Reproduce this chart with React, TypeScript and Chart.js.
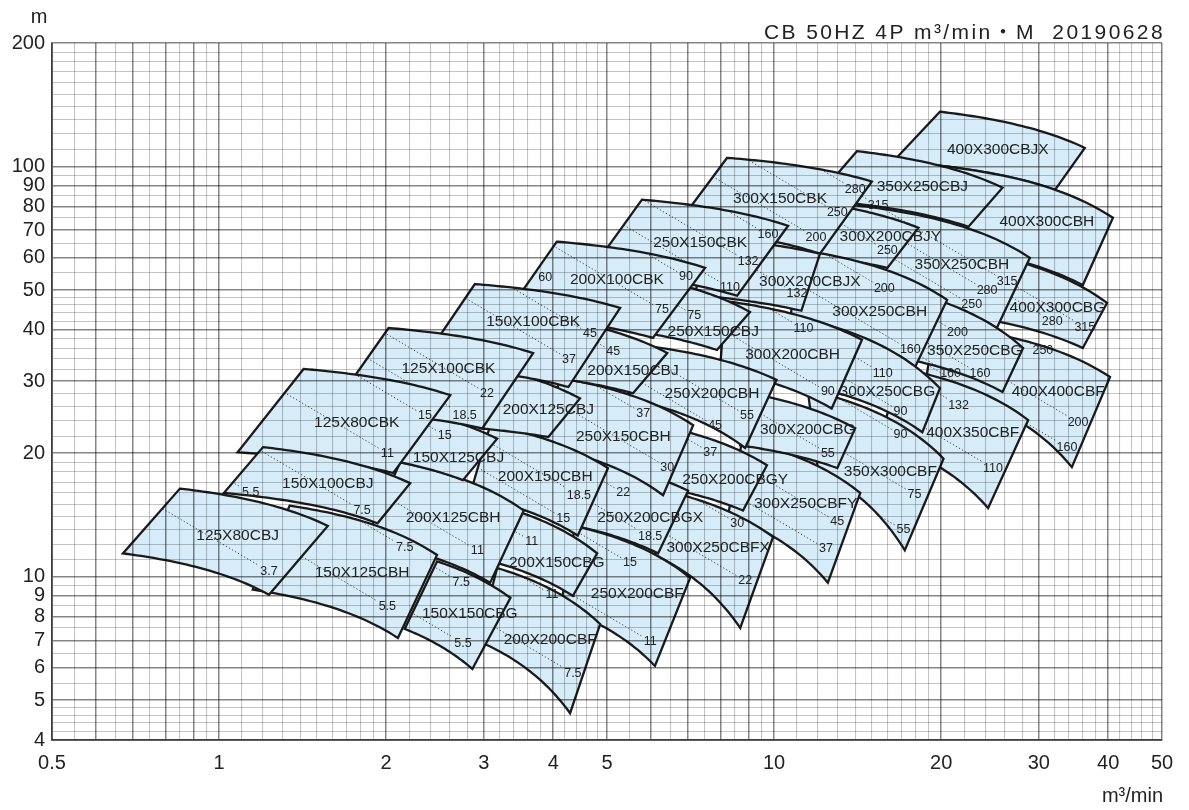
import React, { useEffect, useRef } from "react";
import { Chart, registerables } from "chart.js";

Chart.register(...registerables);

// ---------- DATA ----------
// Tiles in drawing order; corners are [top-left, top-right, bottom-right, bottom-left]
const TILE_NAMES = [
  "400X300CBJX", "400X300CBH", "400X300CBG", "400X400CBF", "350X250CBJ", "350X250CBH",
  "350X250CBG", "400X350CBF", "350X300CBF", "300X200CBJY", "300X250CBH", "300X250CBG",
  "300X250CBFY", "300X150CBK", "300X200CBJX", "300X200CBH", "300X200CBG", "300X250CBFX",
  "250X200CBGY", "250X150CBK", "250X150CBJ", "250X200CBH", "250X200CBGX", "250X200CBF",
  "250X150CBH", "200X100CBK", "200X150CBJ", "200X150CBH", "200X150CBG", "200X200CBF",
  "200X125CBJ", "150X100CBK", "200X125CBH", "150X150CBG", "150X125CBJ", "125X100CBK",
  "150X125CBH", "125X80CBK", "150X100CBJ", "125X80CBJ",
];

// flow m3/min at corners [TL, TR, BR, BL]
const TILE_Q = [
  [19.9, 36.3, 32.1, 16.4], [16.4, 40.8, 36.0, 19.1], [19.1, 39.8, 36.0, 17.9], [19.5, 40.3, 34.4, 18.7],
  [14.1, 25.8, 22.4, 11.85], [13.7, 28.9, 25.2, 12.6], [15.5, 28.1, 25.8, 14.6], [16.9, 28.7, 24.3, 15.5],
  [11.5, 20.2, 17.2, 12.0], [13.3, 18.2, 16.0, 11.9], [11.1, 20.5, 17.9, 10.7], [11.9, 19.9, 18.5, 11.4],
  [8.76, 14.3, 12.5, 8.26], [8.23, 15.0, 12.1, 6.63], [7.51, 12.1, 11.2, 7.21], [8.16, 14.4, 12.7, 7.99],
  [9.44, 14.0, 13.0, 8.69], [6.36, 9.96, 8.69, 6.10], [7.0, 9.71, 8.79, 6.31], [5.78, 10.6, 8.58, 4.66],
  [6.23, 9.05, 7.89, 5.86], [5.74, 10.1, 8.87, 5.46], [4.66, 7.0, 6.18, 4.38], [4.38, 7.06, 6.10, 4.12],
  [4.12, 7.15, 6.31, 3.79], [4.06, 7.51, 6.05, 3.28], [4.38, 6.42, 5.57, 4.03], [3.08, 5.02, 4.43, 2.83],
  [2.95, 4.80, 4.34, 2.77], [3.17, 4.86, 4.29, 2.93], [3.14, 4.47, 3.92, 2.95], [2.89, 5.28, 4.26, 2.30],
  [2.12, 3.54, 3.08, 1.83], [2.47, 3.35, 2.86, 2.16], [2.35, 3.17, 2.75, 2.12], [2.02, 3.68, 2.98, 1.59],
  [1.34, 2.47, 2.10, 1.15], [1.42, 2.61, 2.06, 1.08], [1.20, 2.21, 1.93, 1.02], [0.85, 1.57, 1.23, 0.671],
];

// head m at corners [TL, TR, BR, BL]
const TILE_H = [
  [136, 111, 87.8, 103], [103, 75.0, 51.4, 64.4], [64.4, 46.5, 36.1, 44.7], [41.1, 30.7, 18.5, 29.3],
  [109, 88.8, 71.3, 83.0], [80.7, 59.9, 40.4, 52.9], [51.4, 36.1, 28.2, 35.3], [32.2, 24.1, 14.7, 21.5],
  [28.5, 19.4, 11.6, 18.2], [79.8, 70.9, 56.6, 60.6], [62.7, 47.3, 32.2, 42.7], [41.8, 28.8, 22.5, 29.3],
  [21.5, 16.0, 9.67, 14.1], [105, 91.9, 61.3, 70.9], [67.1, 61.3, 44.5, 48.6], [47.0, 37.8, 25.7, 31.9],
  [27.7, 23.0, 18.4, 20.9], [16.2, 12.5, 7.5, 11.3], [22.5, 18.7, 14.5, 16.5], [83.0, 71.7, 48.4, 55.4],
  [52.9, 44.2, 35.7, 39.3], [36.7, 30.2, 20.6, 27.2], [19.2, 16.2, 11.4, 13.3], [13.3, 9.94, 6.06, 8.40],
  [30.5, 23.4, 15.8, 20.9], [65.6, 56.6, 38.2, 43.4], [41.8, 35.1, 28.0, 30.5], [23.4, 18.4, 12.6, 15.8],
  [15.3, 11.4, 8.98, 11.3], [10.5, 7.67, 4.65, 6.97], [32.2, 27.2, 21.9, 23.0], [51.7, 45.2, 29.0, 32.8],
  [19.0, 14.5, 9.67, 12.2], [10.9, 8.88, 5.96, 7.46], [25.0, 21.7, 17.2, 19.0], [40.4, 35.1, 23.0, 25.5],
  [14.9, 11.3, 7.09, 9.30], [32.1, 27.7, 17.9, 20.1], [20.7, 16.9, 13.5, 16.0], [16.4, 13.3, 9.04, 11.4],
];

// model name anchor (flow, head)
const NAME_Q = [
  25.3, 31.0, 32.4, 32.5, 18.5, 21.8, 23.0, 22.8, 16.2, 16.2, 15.5, 16.0,
  11.4, 10.25, 11.6, 10.8, 11.5, 7.93, 8.51, 7.36, 7.77, 7.73, 5.98, 5.67,
  5.35, 5.21, 5.57, 3.87, 4.06, 3.95, 3.92, 3.68, 2.64, 2.83, 2.70, 2.59,
  1.81, 1.77, 1.57, 1.08,
];
const NAME_H = [
  110, 73.4, 45.2, 28.3, 89.3, 57.6, 35.5, 22.5, 18.0, 67.4, 44.2, 28.2,
  15.1, 83.5, 52.3, 34.7, 22.8, 11.8, 17.2, 65.2, 39.5, 28.0, 13.9, 9.09,
  22.0, 52.9, 31.7, 17.5, 10.8, 7.01, 25.5, 41.8, 13.9, 8.12, 19.5, 32.2,
  10.2, 23.8, 16.9, 12.6,
];

// motor kW marks: owning tile, text, flow, head
const KW_TILE = [
  "125X80CBJ", "150X100CBJ", "150X100CBJ", "150X125CBH", "150X125CBH", "125X80CBK", "125X80CBK",
  "125X100CBK", "125X100CBK", "150X125CBJ", "200X125CBH", "150X150CBG", "150X150CBG",
  "200X150CBH", "200X150CBH", "200X150CBG", "200X200CBF", "200X200CBF", "250X200CBGX",
  "250X200CBGX", "250X200CBF", "250X200CBF", "250X150CBH", "250X150CBH", "250X200CBGY",
  "300X250CBFX", "300X250CBFX", "200X100CBK", "200X100CBK", "200X100CBK", "250X150CBK",
  "250X150CBK", "250X150CBK", "250X150CBJ", "150X100CBK", "150X100CBK", "200X150CBJ",
  "250X200CBH", "250X200CBH", "300X150CBK", "300X150CBK", "300X150CBK", "350X250CBJ",
  "300X200CBJY", "300X200CBJX", "300X250CBH", "300X250CBH", "300X200CBH", "300X200CBH",
  "350X250CBH", "350X250CBH", "350X250CBH", "400X300CBG", "400X300CBG", "400X400CBF",
  "400X400CBF", "400X400CBF", "350X250CBG", "350X250CBG", "350X250CBG", "300X250CBG",
  "300X250CBG", "400X350CBF", "400X350CBF", "350X300CBF", "350X300CBF", "350X300CBF",
  "300X200CBG", "300X250CBFY", "300X250CBFY",
];
const KW_TEXT = [
  "3.7", "5.5", "7.5", "7.5", "5.5", "11", "15",
  "22", "18.5", "15", "11", "7.5", "5.5",
  "18.5", "15", "11", "11", "7.5", "22",
  "18.5", "15", "11", "30", "37", "37",
  "30", "22", "60", "90", "75", "132",
  "110", "160", "75", "45", "37", "45",
  "55", "45", "280", "250", "200", "315",
  "250", "132", "200", "160", "110", "90",
  "315", "280", "250", "280", "315", "250",
  "200", "160", "200", "160", "160", "110",
  "90", "132", "110", "90", "75", "55",
  "55", "45", "37",
];
const KW_Q = [
  1.23, 1.14, 1.81, 2.16, 2.01, 2.01, 2.35,
  3.04, 2.77, 2.55, 2.92, 2.73, 2.75,
  4.45, 4.17, 3.66, 3.98, 4.34, 5.35,
  5.98, 5.50, 5.98, 6.42, 5.81, 7.67,
  8.58, 8.87, 3.87, 6.94, 6.28, 8.98,
  8.33, 9.75, 7.18, 4.66, 4.27, 5.13,
  8.94, 7.83, 14.0, 13.0, 11.9, 15.4,
  16.0, 11.0, 15.8, 17.6, 11.3, 12.5,
  26.3, 24.2, 22.7, 31.7, 36.3, 30.5,
  35.3, 33.7, 21.4, 20.8, 23.5, 15.7,
  16.9, 21.5, 24.8, 16.9, 17.9, 17.1,
  12.5, 13.0, 12.4,
];
const KW_H = [
  10.3, 16.0, 14.5, 11.8, 8.44, 20.0, 24.7,
  28.0, 24.7, 22.1, 11.6, 9.67, 6.89,
  15.8, 13.9, 12.2, 9.04, 5.82, 16.0,
  12.5, 10.8, 6.97, 18.5, 25.0, 20.1,
  13.5, 9.78, 53.5, 53.8, 44.7, 58.6,
  50.6, 68.2, 43.4, 39.1, 33.9, 35.3,
  24.7, 23.3, 87.8, 77.2, 67.1, 80.3,
  62.3, 48.9, 50.3, 35.7, 40.2, 28.2,
  52.3, 49.8, 46.0, 42.0, 40.6, 35.5,
  23.8, 20.7, 39.3, 31.2, 31.2, 31.3,
  25.3, 26.2, 18.4, 22.2, 15.9, 13.0,
  20.0, 13.6, 11.7,
];

// axis labels and grid
const X_TICK_LABELS = [0.5, 1, 2, 3, 4, 5, 10, 20, 30, 40, 50];
const Y_TICK_LABELS = [4, 5, 6, 7, 8, 9, 10, 20, 30, 40, 50, 60, 70, 80, 90, 100, 200];
const X_GRID_STEPS = [[0.5, 1, 0.05], [1, 2, 0.1], [2, 5, 0.2], [5, 10, 0.5], [10, 20, 1], [20, 50, 2]];
const Y_GRID_STEPS = [[4, 5, 0.2], [5, 10, 0.5], [10, 20, 1], [20, 50, 2], [50, 100, 5], [100, 200, 10]];

const TITLE = "CB 50HZ 4P m³/min・M  20190628";
const X_UNIT = "m³/min";
const Y_UNIT = "m";

// ---------- STYLE ----------
const FONT = '"Liberation Sans", Arial, Helvetica, "Noto Sans CJK JP", sans-serif';
const FILL = "rgb(214,237,249)";
const EDGE = "#1b1b1b";

function gridValues(steps: number[][]) {
  const out: number[] = [];
  steps.forEach(([a, b, s]) => {
    const n = Math.round((b - a) / s);
    for (let i = 0; i < n; i++) out.push(Math.round((a + i * s) * 10000) / 10000);
  });
  out.push(steps[steps.length - 1][1]);
  return out;
}
const X_GRID = gridValues(X_GRID_STEPS);
const Y_GRID = gridValues(Y_GRID_STEPS);

function isMajor(v: number) {
  const p = Math.pow(10, Math.floor(Math.log10(v) + 1e-9));
  const m = v / p;
  return Math.abs(m - Math.round(m)) < 1e-6;
}

// pump-curve style edge between two corners (H = a - b Q^2)
function curvePts(q1: number, h1: number, q2: number, h2: number, n = 32) {
  const b = (h1 - h2) / (q2 * q2 - q1 * q1);
  const a = h1 + b * q1 * q1;
  const pts: number[][] = [];
  const l1 = Math.log(q1), l2 = Math.log(q2);
  for (let k = 0; k <= n; k++) {
    const q = Math.exp(l1 + (l2 - l1) * (k / n));
    pts.push([q, a - b * q * q]);
  }
  return pts;
}

function tilePath(i: number, xs: any, ys: any) {
  const Q = TILE_Q[i], H = TILE_H[i];
  const top = curvePts(Q[0], H[0], Q[1], H[1]);
  const bot = curvePts(Q[3], H[3], Q[2], H[2]);
  const p = new Path2D();
  top.forEach(([q, h], k) => {
    const X = xs.getPixelForValue(q), Y = ys.getPixelForValue(h);
    if (k === 0) p.moveTo(X, Y); else p.lineTo(X, Y);
  });
  for (let k = bot.length - 1; k >= 0; k--) {
    p.lineTo(xs.getPixelForValue(bot[k][0]), ys.getPixelForValue(bot[k][1]));
  }
  p.closePath();
  return p;
}

const tilesPlugin = {
  id: "pumpTiles",
  beforeDatasetsDraw(chart: any) {
    const { ctx, chartArea, scales } = chart;
    const xs = scales.x, ys = scales.y;
    ctx.save();
    ctx.beginPath();
    ctx.rect(chartArea.left, chartArea.top, chartArea.right - chartArea.left, chartArea.bottom - chartArea.top);
    ctx.clip();
    ctx.font = `12.5px ${FONT}`;
    const slope = 0.59;
    const len = Math.sqrt(1 + slope * slope);
    const dx = 1 / len, dy = slope / len;
    TILE_NAMES.forEach((name, i) => {
      const path = tilePath(i, xs, ys);
      ctx.fillStyle = FILL;
      ctx.fill(path);
      // dotted motor lines
      ctx.save();
      ctx.clip(path);
      ctx.setLineDash([1.3, 2.2]);
      ctx.strokeStyle = "#3a3a3a";
      ctx.lineWidth = 0.9;
      KW_TILE.forEach((t, k) => {
        if (t !== name) return;
        const px = xs.getPixelForValue(KW_Q[k]);
        const py = ys.getPixelForValue(KW_H[k]);
        const w = ctx.measureText(KW_TEXT[k]).width / 2 + 3;
        ctx.beginPath();
        ctx.moveTo(px - dx * 400, py - dy * 400);
        ctx.lineTo(px - dx * w, py - dy * w);
        ctx.stroke();
      });
      ctx.restore();
      ctx.setLineDash([]);
      ctx.strokeStyle = EDGE;
      ctx.lineWidth = 2.3;
      ctx.lineJoin = "miter";
      ctx.stroke(path);
    });
    ctx.restore();
  },
  afterDatasetsDraw(chart: any) {
    chart.ctx.globalCompositeOperation = "multiply";
  },
  afterDraw(chart: any) {
    const { ctx, chartArea, scales } = chart;
    const xs = scales.x, ys = scales.y;
    ctx.save();
    ctx.globalCompositeOperation = "source-over";
    ctx.fillStyle = "#222";
    ctx.textAlign = "center";
    ctx.textBaseline = "middle";
    ctx.font = `15.5px ${FONT}`;
    TILE_NAMES.forEach((n, i) => {
      ctx.fillText(n, xs.getPixelForValue(NAME_Q[i]), ys.getPixelForValue(NAME_H[i]));
    });
    ctx.font = `12.5px ${FONT}`;
    KW_TEXT.forEach((t, k) => {
      ctx.fillText(t, xs.getPixelForValue(KW_Q[k]), ys.getPixelForValue(KW_H[k]));
    });
    ctx.font = `20px ${FONT}`;
    ctx.fillText(Y_UNIT, chartArea.left - 13, 17);
    ctx.textAlign = "right";
    ctx.fillText(X_UNIT, chartArea.right + 1, 796);
    ctx.font = `21px ${FONT}`;
    try {
      (ctx as any).letterSpacing = "2.4px";
    } catch (e) {
      /* ignore */
    }
    ctx.fillText(TITLE, chartArea.right + 3, 33);
    try {
      (ctx as any).letterSpacing = "0px";
    } catch (e) {
      /* ignore */
    }
    ctx.restore();
    ctx.globalCompositeOperation = "source-over";
  },
};

export default function App() {
  const ref = useRef<HTMLCanvasElement>(null);
  useEffect(() => {
    const canvas = ref.current;
    if (!canvas) return;
    const gridColor = (c: any) => (c.tick && isMajor(c.tick.value) ? "#858585" : "#c4c4c4");
    const gridWidth = (c: any) => (c.tick && isMajor(c.tick.value) ? 1.5 : 1.1);
    const chart = new Chart(canvas, {
      type: "scatter",
      data: { datasets: [] },
      options: {
        animation: false,
        responsive: false,
        devicePixelRatio: 1,
        events: [],
        layout: { padding: { top: 43, right: 27, left: 0, bottom: 0 } },
        plugins: { legend: { display: false }, tooltip: { enabled: false }, title: { display: false } },
        scales: {
          x: {
            type: "logarithmic",
            min: 0.5,
            max: 50,
            afterBuildTicks: (s: any) => {
              s.ticks = X_GRID.map((v) => ({ value: v }));
            },
            afterFit: (s: any) => {
              s.height = 70;
            },
            ticks: {
              autoSkip: false,
              maxRotation: 0,
              minRotation: 0,
              padding: 11,
              color: "#222",
              font: { family: FONT, size: 20 },
              callback: (v: any) => (X_TICK_LABELS.includes(Number(v)) ? String(v) : ""),
            },
            grid: { z: 1, drawTicks: false, color: gridColor, lineWidth: gridWidth },
            border: { z: 1, color: "#7a7a7a", width: 2 },
          },
          y: {
            type: "logarithmic",
            min: 4,
            max: 200,
            afterBuildTicks: (s: any) => {
              s.ticks = Y_GRID.map((v) => ({ value: v }));
            },
            afterFit: (s: any) => {
              s.width = 52;
            },
            ticks: {
              autoSkip: false,
              padding: 7,
              color: "#222",
              font: { family: FONT, size: 20 },
              callback: (v: any) => (Y_TICK_LABELS.includes(Number(v)) ? String(v) : ""),
            },
            grid: { z: 1, drawTicks: false, color: gridColor, lineWidth: gridWidth },
            border: { z: 1, color: "#7a7a7a", width: 2 },
          },
        },
      } as any,
      plugins: [tilesPlugin as any],
    });
    return () => chart.destroy();
  }, []);
  return (
    <div style={{ position: "absolute", left: 0, top: 0, width: 1189, height: 810, background: "#fff" }}>
      <canvas ref={ref} width={1189} height={810} style={{ display: "block", width: 1189, height: 810 }} />
    </div>
  );
}
